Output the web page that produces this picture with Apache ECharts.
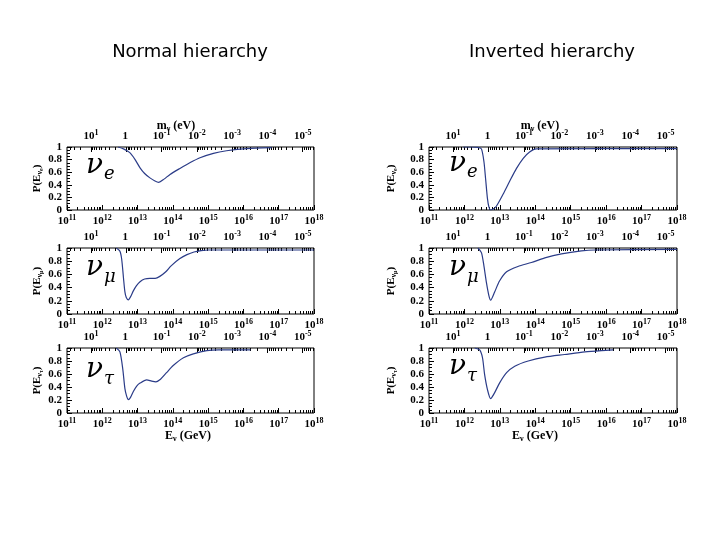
<!DOCTYPE html>
<html><head><meta charset="utf-8">
<script src="https://cdn.jsdelivr.net/npm/echarts@6/dist/echarts.min.js"></script>
<style>html,body{margin:0;padding:0;background:#fff}#c{width:720px;height:540px}</style>
</head><body><div id="c"></div>
<script>
// x = log10(E_nu / GeV), y = survival probability P
const nhE_x = [12.45, 12.6, 12.78, 12.93, 13.07, 13.2, 13.35, 13.48, 13.6, 13.75, 13.92, 14.2, 14.48, 14.77, 15.15, 15.52, 16.09, 16.8];
const nhE_p = [1.0, 0.97, 0.91, 0.80, 0.67, 0.58, 0.51, 0.465, 0.44, 0.49, 0.565, 0.66, 0.75, 0.83, 0.90, 0.94, 0.975, 0.99];
const nhMu_x = [12.4, 12.5, 12.55, 12.6, 12.64, 12.68, 12.74, 12.8, 12.88, 12.97, 13.07, 13.2, 13.35, 13.5, 13.63, 13.8, 13.95, 14.2, 14.4, 14.6, 14.8, 15.0, 18.0];
const nhMu_p = [1.0, 0.95, 0.83, 0.55, 0.34, 0.25, 0.215, 0.26, 0.35, 0.43, 0.49, 0.53, 0.54, 0.54, 0.57, 0.64, 0.73, 0.84, 0.90, 0.94, 0.96, 0.97, 0.97];
const nhTau_x = [12.4, 12.5, 12.58, 12.64, 12.69, 12.74, 12.8, 12.88, 12.97, 13.07, 13.26, 13.4, 13.52, 13.65, 13.82, 14.01, 14.3, 14.58, 14.96, 15.3, 16.2];
const nhTau_p = [1.0, 0.94, 0.68, 0.38, 0.26, 0.205, 0.24, 0.33, 0.41, 0.46, 0.51, 0.49, 0.48, 0.52, 0.62, 0.73, 0.85, 0.91, 0.96, 0.97, 0.97];
const ihE_x = [11.96, 12.2, 12.38, 12.48, 12.55, 12.6, 12.65, 12.69, 12.74, 12.8, 12.9, 13.09, 13.28, 13.47, 13.66, 13.84, 14.03, 18.0];
const ihE_p = [1.0, 1.0, 0.995, 0.97, 0.77, 0.48, 0.18, 0.05, 0.0, 0.01, 0.06, 0.25, 0.46, 0.66, 0.82, 0.92, 0.97, 0.975];
const ihMu_x = [12.38, 12.48, 12.55, 12.62, 12.69, 12.74, 12.85, 12.99, 13.19, 13.51, 13.89, 14.27, 14.74, 15.3, 15.68, 18.0];
const ihMu_p = [1.0, 0.93, 0.73, 0.48, 0.28, 0.21, 0.33, 0.50, 0.64, 0.72, 0.78, 0.85, 0.91, 0.955, 0.97, 0.98];
const ihTau_x = [12.29, 12.43, 12.51, 12.57, 12.65, 12.74, 12.85, 12.99, 13.19, 13.42, 13.8, 14.27, 14.83, 15.4, 15.87, 16.2];
const ihTau_p = [1.0, 0.97, 0.85, 0.59, 0.36, 0.22, 0.31, 0.46, 0.62, 0.72, 0.80, 0.86, 0.90, 0.94, 0.96, 0.97];

const energyExp = [11, 12, 13, 14, 15, 16, 17, 18];      // bottom axis: E_nu = 10^n GeV
const massExp = [1, 0, -1, -2, -3, -4, -5];               // top axis: m_nu = 10^k eV
const massOffset = 12.68;                                 // log E_res = massOffset - log m
const yTicks = [0, 0.2, 0.4, 0.6, 0.8, 1];
const flavours = ['e', 'μ', 'τ'];
const columnTitles = ['Normal hierarchy', 'Inverted hierarchy'];

const seriesData = [
  [[nhE_x, nhE_p], [nhMu_x, nhMu_p], [nhTau_x, nhTau_p]],
  [[ihE_x, ihE_p], [ihMu_x, ihMu_p], [ihTau_x, ihTau_p]]
];

const colLeft = [67, 429], colWidth = [247, 248];
const rowTop = [147, 248, 348], rowHeight = [63, 66, 65];
const lblFont = 'Liberation Serif';
const supRich = { s: { fontSize: 8, fontFamily: lblFont, fontWeight: 'bold', padding: [0, 0, 6, 0] }, b: { fontSize: 11, fontFamily: lblFont, fontWeight: 'bold' } };

const minorE = [];
for (let n = 11; n < 18; n++) for (let k = 2; k <= 9; k++) minorE.push(n + Math.log10(k));
const minorM = [];
for (let j = -7; j <= 2; j++) for (let k = 2; k <= 9; k++) {
  const v = massOffset - (j + Math.log10(k));
  if (v > 11.01 && v < 17.99) minorM.push(v);
}
const majorM = massExp.map(k => massOffset - k);

const grids = [], xAxes = [], yAxes = [], series = [], graphics = [];
let gi = 0;
for (let c = 0; c < 2; c++) {
  for (let r = 0; r < 3; r++) {
    grids.push({ left: colLeft[c], top: rowTop[r], width: colWidth[c], height: rowHeight[r],
      show: true, borderColor: '#000', borderWidth: 1, backgroundColor: 'transparent' });
    const base = { type: 'value', gridIndex: gi, min: 11, max: 18, splitLine: { show: false },
      axisLine: { show: false } };
    xAxes.push(Object.assign({}, base, { position: 'bottom', interval: 1,
      axisTick: { inside: true, length: 5, lineStyle: { color: '#000' } },
      axisLabel: { margin: 4, color: '#000', rich: supRich, formatter: v => '{b|10}{s|' + v + '}' } }));
    xAxes.push(Object.assign({}, base, { position: 'bottom',
      axisTick: { inside: true, length: 3, customValues: minorE, lineStyle: { color: '#000' } },
      axisLabel: { show: false } }));
    xAxes.push(Object.assign({}, base, { position: 'top',
      axisTick: { inside: true, length: 5, customValues: majorM, lineStyle: { color: '#000' } },
      axisLabel: { margin: 4, color: '#000', rich: supRich, customValues: majorM,
        formatter: v => { const k = Math.round(massOffset - v); return k === 0 ? '{b|1}{s| }' : '{b|10}{s|' + k + '}'; } } }));
    xAxes.push(Object.assign({}, base, { position: 'top',
      axisTick: { inside: true, length: 3, customValues: minorM, lineStyle: { color: '#000' } },
      axisLabel: { show: false } }));
    const nm = 'P(E{s|ν}{ss|' + flavours[r] + '})';
    yAxes.push({ type: 'value', gridIndex: gi, min: 0, max: 1, interval: 0.2,
      splitLine: { show: false }, axisLine: { show: false },
      axisTick: { inside: true, length: 5, lineStyle: { color: '#000' } },
      minorTick: { show: true, splitNumber: 4, length: 3, lineStyle: { color: '#000' } },
      axisLabel: { margin: 5, color: '#000', fontFamily: lblFont, fontWeight: 'bold', fontSize: 11,
        formatter: v => (v === 0 ? '0' : v === 1 ? '1' : v.toFixed(1)) },
      name: nm, nameLocation: 'middle', nameRotate: 90, nameGap: c === 0 ? 22 : 31,
      nameTextStyle: { color: '#000', fontFamily: lblFont, fontWeight: 'bold', fontSize: 11,
        rich: { s: { fontSize: 8, fontFamily: lblFont, fontWeight: 'bold', padding: [5, 0, 0, 0] },
                ss: { fontSize: 6, fontFamily: lblFont, fontWeight: 'bold', padding: [8, 0, 0, 0] } } } });
    const xs = seriesData[c][r][0], ps = seriesData[c][r][1];
    series.push({ type: 'line', xAxisIndex: gi * 4, yAxisIndex: gi, data: xs.map((x, i) => [x, ps[i]]),
      showSymbol: false, smooth: 0.25, lineStyle: { color: '#2b3c88', width: 1.2 }, clip: true, silent: true });
    gi++;
  }
}

const nuX = [86, 449];
const nuY = [[168, 270, 372], [166, 270, 369]];
const subY = [[175, 278, 380], [173, 278, 377]];
for (let c = 0; c < 2; c++) {
  for (let r = 0; r < 3; r++) {
    graphics.push({ type: 'text', left: nuX[c], top: nuY[c][r] - 16, silent: true,
      style: { text: 'ν', font: 'italic 28px "DejaVu Serif"', fill: '#000' } });
    graphics.push({ type: 'text', left: nuX[c] + 18, top: subY[c][r] - 10, silent: true,
      style: { text: flavours[r], font: 'italic 18px "DejaVu Serif"', fill: '#000' } });
  }
}
const titleX = [190, 552];
const mX = [176, 540], eX = [188, 535];
for (let c = 0; c < 2; c++) {
  graphics.push({ type: 'text', x: titleX[c], y: 52, silent: true,
    style: { text: columnTitles[c], font: '18px "DejaVu Sans"', fill: '#000', align: 'center', verticalAlign: 'middle' } });
  graphics.push({ type: 'text', x: mX[c], y: 126, silent: true,
    style: { text: '{b|m}{s|ν}{b| (eV)}', align: 'center', verticalAlign: 'middle',
      rich: { b: { fontSize: 12, fontFamily: lblFont, fontWeight: 'bold' }, s: { fontSize: 8, fontFamily: lblFont, fontWeight: 'bold', padding: [6, 0, 0, 0] } } } });
  graphics.push({ type: 'text', x: eX[c], y: 436, silent: true,
    style: { text: '{b|E}{s|ν}{b| (GeV)}', align: 'center', verticalAlign: 'middle',
      rich: { b: { fontSize: 12, fontFamily: lblFont, fontWeight: 'bold' }, s: { fontSize: 8, fontFamily: lblFont, fontWeight: 'bold', padding: [6, 0, 0, 0] } } } });
}

const chart = echarts.init(document.getElementById('c'), null, { renderer: 'canvas' });
chart.setOption({
  animation: false,
  backgroundColor: '#fff',
  grid: grids, xAxis: xAxes, yAxis: yAxes, series: series, graphic: graphics
});
</script></body></html>
